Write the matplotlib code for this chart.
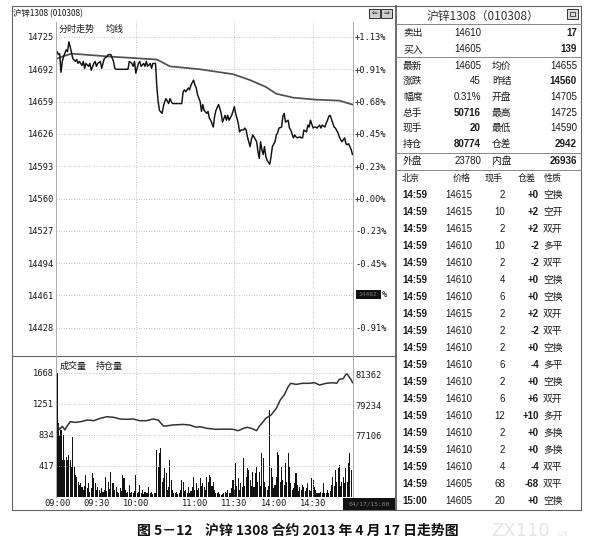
import matplotlib
matplotlib.use("Agg")
import matplotlib.pyplot as plt
from matplotlib.patches import Rectangle

W, H = 594, 552

# minutes after 09:00, trading time only (10:15-10:30 and 11:30-13:30 are skipped)
price_min = [0, 1, 2, 3, 4, 5, 7, 8, 9, 10, 12, 14, 15, 16, 17, 19, 20, 21, 22, 24,
             25, 26, 28, 29, 30, 31, 33, 34, 35, 36, 38, 39, 41, 43, 44, 45, 54, 55, 57, 58,
             59, 60, 62, 63, 64, 66, 67, 68, 69, 71, 72, 73, 75, 76, 77, 78, 80, 81, 82, 83,
             85, 86, 87, 88, 95, 96, 97, 98, 100, 101, 102, 104, 105, 106, 107, 109, 110, 111, 112, 114,
             115, 116, 117, 119, 120, 121, 123, 124, 125, 126, 128, 129, 130, 131, 133, 134, 135, 136, 138, 139,
             140, 142, 143, 144, 145, 147, 148, 149, 150, 152, 153, 154, 155, 156, 157, 158, 159, 160, 162, 163,
             164, 166, 167, 168, 169, 171, 172, 173, 174, 176, 177, 178, 180, 181, 182, 183, 185, 186, 187, 188,
             190, 191, 192, 193, 195, 196, 197, 198, 200, 201, 202, 204, 205, 206, 207, 208, 210, 211, 212, 214,
             215, 216, 217, 219, 220, 221, 222, 223, 224, 225]
price_val = [14710, 14707, 14708, 14689, 14700, 14705, 14712, 14710, 14720, 14715, 14703, 14700, 14702, 14698, 14700, 14696, 14700, 14693, 14698, 14695,
             14698, 14691, 14698, 14700, 14695, 14698, 14700, 14693, 14698, 14703, 14705, 14707, 14707, 14700, 14693, 14692, 14692, 14700, 14698, 14695,
             14700, 14688, 14698, 14700, 14695, 14698, 14695, 14700, 14695, 14698, 14693, 14698, 14698, 14674, 14659, 14650, 14647, 14654, 14659, 14662,
             14657, 14662, 14659, 14657, 14657, 14669, 14671, 14669, 14673, 14671, 14676, 14681, 14676, 14673, 14666, 14659, 14649, 14656, 14650, 14647,
             14649, 14642, 14640, 14633, 14644, 14650, 14656, 14652, 14647, 14638, 14645, 14640, 14645, 14640, 14645, 14649, 14654, 14647, 14637, 14628,
             14630, 14630, 14632, 14630, 14623, 14613, 14620, 14625, 14623, 14618, 14608, 14601, 14618, 14610, 14605, 14613, 14603, 14599, 14595, 14603,
             14613, 14618, 14625, 14627, 14632, 14633, 14644, 14647, 14638, 14640, 14632, 14630, 14622, 14625, 14623, 14622, 14623, 14622, 14622, 14630,
             14628, 14635, 14633, 14640, 14632, 14633, 14633, 14632, 14635, 14632, 14635, 14633, 14637, 14640, 14644, 14645, 14637, 14633, 14632, 14627,
             14623, 14620, 14618, 14622, 14616, 14615, 14616, 14613, 14610, 14605]

avg_min = [0, 4, 11, 40, 76, 86, 109, 134, 147, 159, 167, 180, 197, 215, 225]
avg_val = [14703, 14705, 14708, 14705, 14702, 14695, 14692, 14687, 14681, 14674, 14667, 14663, 14661, 14660, 14656]

# one volume bar per minute, 09:00 .. 14:59
vol_val = [1668, 990, 834, 900, 498, 834, 498, 542, 498, 565, 498, 400, 811, 408, 296, 273, 200, 161, 184, 139,
           94, 150, 296, 117, 184, 72, 120, 318, 251, 184, 100, 139, 94, 60, 117, 72, 90, 273, 80, 206,
           110, 341, 184, 184, 90, 139, 72, 60, 117, 80, 296, 251, 94, 60, 72, 161, 60, 72, 49, 80,
           296, 60, 72, 161, 50, 94, 40, 72, 49, 60, 139, 50, 72, 40, 49, 60, 632, 400, 587, 655,
           200, 251, 386, 318, 100, 139, 498, 229, 94, 60, 49, 72, 40, 49, 100, 229, 206, 80, 94, 60,
           139, 49, 80, 139, 273, 100, 184, 94, 120, 251, 150, 184, 139, 100, 273, 200, 296, 273, 150, 206,
           94, 50, 60, 72, 40, 30, 40, 50, 72, 60, 94, 50, 60, 117, 229, 100, 453, 150, 251, 100,
           184, 139, 520, 150, 273, 386, 363, 229, 150, 341, 139, 318, 408, 200, 341, 150, 587, 520, 206, 139,
           100, 150, 1170, 386, 273, 120, 161, 273, 609, 565, 200, 408, 229, 161, 453, 200, 587, 408, 184, 90,
           117, 184, 318, 161, 80, 139, 94, 161, 139, 80, 117, 184, 94, 80, 251, 229, 139, 94, 60, 50,
           49, 72, 50, 184, 60, 49, 94, 60, 80, 161, 273, 150, 363, 206, 386, 430, 150, 206, 273, 184,
           386, 200, 453, 587, 363]
vol_min = list(range(len(vol_val)))

oi_min = [0, 2, 4, 6, 7, 10, 14, 18, 23, 28, 33, 38, 43, 48, 53, 58, 63, 68, 73, 77,
          81, 83, 88, 96, 101, 106, 109, 114, 121, 129, 134, 138, 142, 145, 149, 152, 154, 157, 159, 163,
          167, 170, 173, 176, 178, 182, 187, 192, 196, 200, 205, 210, 213, 215, 218, 220, 221, 224, 225]
oi_val = [77861, 77565, 77770, 77518, 77700, 78088, 78040, 78088, 78204, 78160, 78320, 78430, 78390, 78273, 78250, 78273, 78156, 78156, 78273, 78200,
          77792, 77792, 77861, 77900, 77861, 77703, 77746, 77634, 77565, 77580, 77565, 77470, 77634, 77703, 77600, 77470, 77770, 78088, 78320, 78548,
          79007, 79577, 79920, 80490, 80723, 80650, 80723, 80723, 80765, 80607, 80723, 80765, 80723, 80998, 81050, 81340, 81362, 80950, 80774]

price_ticks = [14725, 14692, 14659, 14626, 14593, 14560, 14527, 14494, 14461, 14428]
pct_labels = ["+1.13%", "+0.91%", "+0.68%", "+0.45%", "+0.23%",
              "+0.00%", "-0.23%", "-0.45%", "-0.68%", "-0.91%"]
vol_ticks = [417, 834, 1251, 1668]
oi_ticks = [77106, 79234, 81362]
time_ticks = [0, 30, 60, 105, 135, 165, 195]
time_labels = ["09:00", "09:30", "10:00", "11:00", "11:30", "14:00", "14:30"]
grid_min = [60, 135, 195]

quote_rows = [
    ("卖出", "14610", "", "17"),
    ("买入", "14605", "", "139"),
    ("最新", "14605", "均价", "14655"),
    ("涨跌", "45", "昨结", "14560"),
    ("幅度", "0.31%", "开盘", "14705"),
    ("总手", "50716", "最高", "14725"),
    ("现手", "20", "最低", "14590"),
    ("持仓", "80774", "仓差", "2942"),
    ("外盘", "23780", "内盘", "26936"),
]
quote_bold = ["17", "139", "14560", "50716", "20", "80774", "2942", "26936"]

trade_head = ["北京", "价格", "现手", "仓差", "性质"]
trade_rows = [
    ("14:59", "14615", "2", "+0", "空换"),
    ("14:59", "14615", "10", "+2", "空开"),
    ("14:59", "14615", "2", "+2", "双开"),
    ("14:59", "14610", "10", "-2", "多平"),
    ("14:59", "14610", "2", "-2", "双平"),
    ("14:59", "14610", "4", "+0", "空换"),
    ("14:59", "14610", "6", "+0", "空换"),
    ("14:59", "14615", "2", "+2", "双开"),
    ("14:59", "14610", "2", "-2", "双平"),
    ("14:59", "14610", "2", "+0", "空换"),
    ("14:59", "14610", "6", "-4", "多平"),
    ("14:59", "14610", "2", "+0", "空换"),
    ("14:59", "14610", "6", "+6", "双开"),
    ("14:59", "14610", "12", "+10", "多开"),
    ("14:59", "14610", "2", "+0", "多换"),
    ("14:59", "14610", "2", "+0", "多换"),
    ("14:59", "14610", "4", "-4", "双平"),
    ("14:59", "14605", "68", "-68", "双平"),
    ("15:00", "14605", "20", "+0", "空换"),
]

CJK = ["Noto Sans CJK SC", "DejaVu Sans"]
NUM = ["Liberation Sans", "Noto Sans CJK SC"]
MONO = "DejaVu Sans Mono"
INK = "#1a1a1a"
GRID = "#b0b0b0"
FRAME = "#666666"


def px_axes(fig, x0, y0, x1, y1):
    return fig.add_axes([x0 / W, 1 - y1 / H, (x1 - x0) / W, (y1 - y0) / H])


def style_axes(ax):
    ax.set_facecolor("none")
    for side in ["top", "bottom"]:
        ax.spines[side].set_visible(False)
    for side in ["left", "right"]:
        ax.spines[side].set_color("#aaaaaa")
        ax.spines[side].set_linewidth(0.6)


def set_mono(labels, size=6.3):
    for lab in labels:
        lab.set_fontfamily(MONO)
        lab.set_fontsize(size)
        lab.set_color(INK)


def price_panel(fig):
    ax = px_axes(fig, 56, 22, 353, 355)
    style_axes(ax)
    ax.set_xlim(-0.8, 225.4)
    ax.set_ylim(14400.2, 14740.3)
    for p in price_ticks:
        ax.axhline(p, color=GRID, lw=0.6, ls=(0, (1, 2)))
    for m in grid_min:
        ax.axvline(m, color=GRID, lw=0.6, ls=(0, (1, 2)))
    ax.plot(avg_min, avg_val, color="#505050", lw=1.25)
    ax.plot(price_min, price_val, color="#111111", lw=1.05)
    ax.set_xticks([])
    ax.set_yticks(price_ticks, [str(p) for p in price_ticks])
    ax.tick_params(axis="y", length=0, pad=1.5)
    set_mono(ax.get_yticklabels())

    axr = ax.twinx()
    style_axes(axr)
    axr.set_ylim(ax.get_ylim())
    axr.set_yticks(price_ticks, pct_labels)
    axr.tick_params(axis="y", length=0, pad=1.5)
    set_mono(axr.get_yticklabels())
    # the -0.68% label sits under the cursor box, only its "%" shows
    axr.get_yticklabels()[pct_labels.index("-0.68%")].set_visible(False)
    return ax


def volume_panel(fig):
    ax = px_axes(fig, 56, 356, 353, 497)
    style_axes(ax)
    ax.set_xlim(-0.8, 225.4)
    ax.set_ylim(0, 1896)
    for v in vol_ticks + [0]:
        ax.axhline(v, color=GRID, lw=0.6, ls=(0, (1, 2)))
    for m in grid_min:
        ax.axvline(m, color=GRID, lw=0.6, ls=(0, (1, 2)))
    ax.bar(vol_min, vol_val, width=0.8, color="#111111", linewidth=0)
    ax.set_yticks(vol_ticks, [str(v) for v in vol_ticks])
    ax.set_xticks(time_ticks, time_labels)
    ax.tick_params(length=0, pad=1.5)
    ax.tick_params(axis="x", pad=1.8)
    set_mono(ax.get_yticklabels())
    set_mono(ax.get_xticklabels())

    axo = ax.twinx()
    style_axes(axo)
    axo.set_ylim(72918, 82598)
    axo.plot(oi_min, oi_val, color="#333333", lw=1.1)
    axo.set_yticks(oi_ticks, [str(v) for v in oi_ticks])
    axo.tick_params(axis="y", length=0, pad=1.5)
    set_mono(axo.get_yticklabels())
    return ax


def frame_and_labels(bg):
    line = dict(color=FRAME, lw=0.8)
    bg.plot([12, 581], [6, 6], **line)
    bg.plot([12, 581], [510, 510], **line)
    bg.plot([12, 12], [6, 510], **line)
    bg.plot([581, 581], [6, 510], **line)
    bg.plot([396, 396], [6, 510], color="#444444", lw=1.1)
    bg.plot([12, 396], [355.5, 355.5], **line)
    for y in [24, 57, 153, 170]:
        bg.plot([396, 581], [y, y], color="#888888", lw=0.7)

    bg.text(13, 14, "沪锌1308 (010308)", fontsize=6, family=CJK, color=INK, va="center")
    bg.text(59, 29, "分时走势", fontsize=6.5, family=CJK, color=INK, va="center")
    bg.text(106, 29, "均线", fontsize=6.5, family=CJK, color=INK, va="center")
    bg.text(60, 366, "成交量", fontsize=6.5, family=CJK, color=INK, va="center")
    bg.text(96, 366, "持仓量", fontsize=6.5, family=CJK, color=INK, va="center")

    # small window buttons
    for x0, arrow in [(369, "⇐"), (381, "⇒")]:
        bg.add_patch(Rectangle((x0, 9), 11, 9, facecolor="#cfcfcf", edgecolor="#333333", lw=0.7))
        bg.text(x0 + 5.5, 13.5, arrow, fontsize=5, ha="center", va="center", color="#222222")
    bg.add_patch(Rectangle((567, 9), 11, 10, facecolor="#d8d8d8", edgecolor="#333333", lw=0.7))
    bg.add_patch(Rectangle((570, 12), 5, 4, facecolor="none", edgecolor="#333333", lw=0.6))

    # cursor value box on the -0.68% level and date box under the time axis
    bg.add_patch(Rectangle((355.5, 290), 25, 9, facecolor="#111111", edgecolor="none"))
    bg.text(368, 294.5, "14462", fontsize=4.5, family=MONO, color="#777777", ha="center", va="center")
    bg.text(381.5, 294.5, "%", fontsize=6.3, family=MONO, color=INK, va="center")
    bg.add_patch(Rectangle((343, 498), 52, 12, facecolor="#111111", edgecolor="none"))
    bg.text(369, 504, "04/17/15:00", fontsize=4.5, family=MONO, color="#888888", ha="center", va="center")


def quote_panel(bg):
    bg.text(483, 16, "沪锌1308（010308）", fontsize=8.5, family=CJK, color="#333333",
            ha="center", va="center")
    ys = [33, 49, 66, 81, 97, 113, 128, 144, 161]
    for y, (k1, v1, k2, v2) in zip(ys, quote_rows):
        bg.text(403, y, k1, fontsize=7, family=CJK, color=INK, va="center")
        bg.text(481, y, v1, fontsize=7, family=NUM, color=INK, ha="right", va="center",
                weight="bold" if v1 in quote_bold else "normal")
        if k2:
            bg.text(492, y, k2, fontsize=7, family=CJK, color=INK, va="center")
        bg.text(577, y, v2, fontsize=7, family=NUM, color=INK, ha="right", va="center",
                weight="bold" if v2 in quote_bold else "normal")

    head_x = [402, 462, 494, 527, 553]
    head_ha = ["left", "center", "center", "center", "center"]
    for x, ha, t in zip(head_x, head_ha, trade_head):
        bg.text(x, 178, t, fontsize=6.5, family=CJK, color=INK, ha=ha, va="center")

    for i, (t, p, n, d, kind) in enumerate(trade_rows):
        y = 195 + i * 17.0
        bg.text(402, y, t, fontsize=7, family=NUM, color=INK, weight="bold", va="center")
        bg.text(472, y, p, fontsize=7, family=NUM, color=INK, ha="right", va="center")
        bg.text(505, y, n, fontsize=7, family=NUM, color=INK, ha="right", va="center")
        bg.text(539, y, d, fontsize=7, family=NUM, color=INK, weight="bold", ha="right", va="center")
        bg.text(543, y, kind, fontsize=7, family=CJK, color=INK, va="center")


def main():
    fig = plt.figure(figsize=(W / 100, H / 100), dpi=100)
    fig.patch.set_facecolor("white")
    bg = fig.add_axes([0, 0, 1, 1])
    bg.set_xlim(0, W)
    bg.set_ylim(H, 0)
    bg.axis("off")

    frame_and_labels(bg)
    quote_panel(bg)
    price_panel(fig)
    volume_panel(fig)

    bg.text(298, 531, "图 5－12    沪锌 1308 合约 2013 年 4 月 17 日走势图", fontsize=10,
            family=CJK, weight="bold", color="#111111", ha="center", va="center")
    bg.text(491, 531, "ZX110", fontsize=13, family="DejaVu Sans", color="#e6e6e6", va="center")
    bg.text(555, 534, ".ux", fontsize=6, family="DejaVu Sans", color="#e6e6e6", va="center")

    fig.savefig("out.png", dpi=100)


if __name__ == "__main__":
    main()
